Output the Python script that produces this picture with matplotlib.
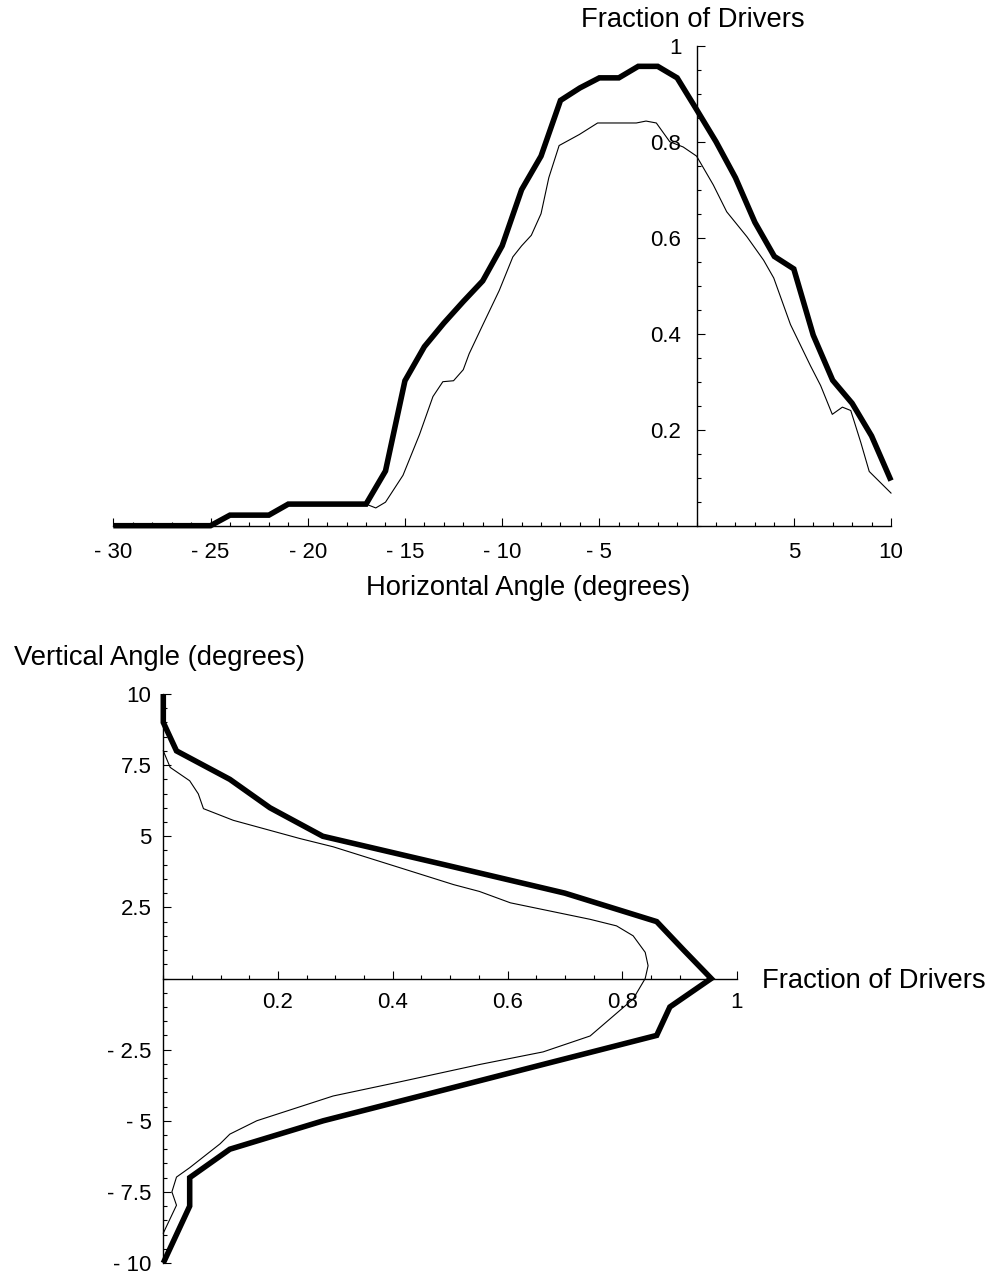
import matplotlib
matplotlib.use("Agg")
import matplotlib.pyplot as plt
from matplotlib.ticker import FixedLocator, MultipleLocator

plt.rcParams['font.family'] = ['Liberation Sans', 'DejaVu Sans']

# ---- Horizontal angle distribution ----
horiz_angle = list(range(-30, 11))
horiz_thick = [0, 0, 0, 0, 0, 0, 0.022, 0.022, 0.022, 0.045, 0.045, 0.045, 0.045,
               0.045, 0.114, 0.302, 0.373, 0.422, 0.467, 0.51, 0.583, 0.70, 0.77,
               0.886, 0.912, 0.933, 0.933, 0.957, 0.957, 0.933, 0.867, 0.80, 0.725,
               0.632, 0.561, 0.535, 0.397, 0.303, 0.255, 0.187, 0.094]

horiz_thin_x = [-17, -16.5, -16, -15.1, -14.25, -13.56, -13.05, -12.5, -12.0, -11.7,
                -11.0, -10.15, -9.45, -9.0, -8.5, -8.0, -7.6, -7.07, -6.03, -5.09,
                -3.1, -2.6, -2.07, -1.38, -0.69, 0, 0.86, 1.55, 2.59, 3.45, 3.97,
                4.83, 5.86, 6.38, 6.98, 7.5, 7.93, 8.45, 8.88, 10]
horiz_thin_y = [0.045, 0.037, 0.049, 0.105, 0.19, 0.269, 0.30, 0.302, 0.325, 0.358,
                0.418, 0.49, 0.56, 0.583, 0.605, 0.65, 0.725, 0.792, 0.815, 0.839,
                0.839, 0.843, 0.839, 0.80, 0.789, 0.77, 0.71, 0.654, 0.602, 0.553,
                0.516, 0.419, 0.333, 0.292, 0.232, 0.247, 0.24, 0.173, 0.113, 0.068]

horiz_ticks = [-30, -25, -20, -15, -10, -5, 5, 10]
frac_ticks = [0.2, 0.4, 0.6, 0.8, 1.0]

# ---- Vertical angle distribution ----
vert_angle = [10, 9, 8, 7, 6, 5, 4, 3, 2, 1, 0, -1, -2, -3, -4, -5, -6, -7, -8, -9, -10]
vert_thick = [0, 0, 0.023, 0.116, 0.186, 0.278, 0.49, 0.70, 0.86, 0.907, 0.955,
              0.883, 0.86, 0.666, 0.473, 0.279, 0.116, 0.046, 0.046, 0.023, 0]

vert_thin_y = [8.0, 7.42, 6.95, 6.49, 5.97, 5.56, 4.92, 4.63, 3.89, 3.30, 3.06, 2.66,
               2.08, 1.85, 1.50, 0.92, 0.45, 0.0, -0.72, -2.02, -2.58, -3.02, -3.63,
               -4.13, -5.0, -5.47, -5.81, -6.65, -6.98, -7.5, -7.97, -8.95]
vert_thin_x = [0, 0.012, 0.046, 0.061, 0.07, 0.122, 0.238, 0.296, 0.413, 0.506, 0.551,
               0.605, 0.744, 0.79, 0.819, 0.84, 0.845, 0.84, 0.819, 0.744, 0.662, 0.552,
               0.413, 0.296, 0.163, 0.116, 0.099, 0.046, 0.023, 0.015, 0.023, 0]

vert_ticks = [10, 7.5, 5, 2.5, -2.5, -5, -7.5, -10]

W, H = 993, 1274
TICK_FS = 16
LABEL_FS = 19.7
THICK = 4.0
THIN = 0.8


def fmt(v):
    s = ('%g' % abs(v))
    return ('- ' + s) if v < 0 else s


def px_axes(fig, left, top, right, bottom):
    return fig.add_axes([left / W, 1 - bottom / H, (right - left) / W, (bottom - top) / H])


def style_cross_axes(ax):
    for side in ('top', 'right'):
        ax.spines[side].set_visible(False)
    for side in ('left', 'bottom'):
        ax.spines[side].set_linewidth(1.0)
        ax.spines[side].set_color('black')
    ax.patch.set_visible(False)
    ax.tick_params(which='both', direction='in', colors='black', width=0.8)
    ax.tick_params(which='major', length=5.5, labelsize=TICK_FS)
    ax.tick_params(which='minor', length=3)


fig = plt.figure(figsize=(W / 100, H / 100), dpi=100)

# Top panel: fraction of drivers vs horizontal angle
ax1 = px_axes(fig, 113.3, 45.7, 891, 525.7)
style_cross_axes(ax1)
ax1.set_xlim(-30, 10)
ax1.set_ylim(0, 1)
ax1.spines['left'].set_position(('data', 0))
ax1.spines['bottom'].set_position(('data', 0))
ax1.xaxis.set_major_locator(FixedLocator(horiz_ticks))
ax1.set_xticklabels([fmt(v) for v in horiz_ticks])
ax1.xaxis.set_minor_locator(MultipleLocator(1))
ax1.yaxis.set_major_locator(FixedLocator(frac_ticks))
ax1.set_yticklabels([fmt(v) for v in frac_ticks])
ax1.yaxis.set_minor_locator(MultipleLocator(0.05))
ax1.tick_params(axis='x', which='major', pad=12)
ax1.tick_params(axis='y', which='major', pad=11)
ax1.plot(horiz_thin_x, horiz_thin_y, color='black', lw=THIN, clip_on=False)
ax1.plot(horiz_angle, horiz_thick, color='black', lw=THICK, clip_on=False,
         solid_joinstyle='miter', solid_capstyle='butt')

fig.text(693 / W, 1 - 27.3 / H, 'Fraction of Drivers', fontsize=LABEL_FS,
         ha='center', va='baseline')
fig.text(528 / W, 1 - 595 / H, 'Horizontal Angle (degrees)', fontsize=LABEL_FS,
         ha='center', va='baseline')

# Bottom panel: vertical angle vs fraction of drivers
ax2 = px_axes(fig, 163.3, 694, 737, 1263)
style_cross_axes(ax2)
ax2.set_xlim(0, 1)
ax2.set_ylim(-10, 10)
ax2.spines['bottom'].set_position(('data', 0))
ax2.xaxis.set_major_locator(FixedLocator(frac_ticks))
ax2.set_xticklabels([fmt(v) for v in frac_ticks])
ax2.xaxis.set_minor_locator(MultipleLocator(0.05))
ax2.yaxis.set_major_locator(FixedLocator(vert_ticks))
ax2.set_yticklabels([fmt(v) for v in vert_ticks])
ax2.yaxis.set_minor_locator(MultipleLocator(0.5))
ax2.tick_params(axis='x', which='major', pad=10)
ax2.tick_params(axis='y', which='major', pad=8.5)
ax2.plot(vert_thin_x, vert_thin_y, color='black', lw=THIN, clip_on=False)
ax2.plot(vert_thick, vert_angle, color='black', lw=THICK, clip_on=False,
         solid_joinstyle='miter', solid_capstyle='butt')

fig.text(159 / W, 1 - 665 / H, 'Vertical Angle (degrees)', fontsize=LABEL_FS,
         ha='center', va='baseline')
fig.text(762 / W, 1 - 988 / H, 'Fraction of Drivers', fontsize=LABEL_FS,
         ha='left', va='baseline')

fig.savefig('out.png', dpi=100, facecolor='white')
